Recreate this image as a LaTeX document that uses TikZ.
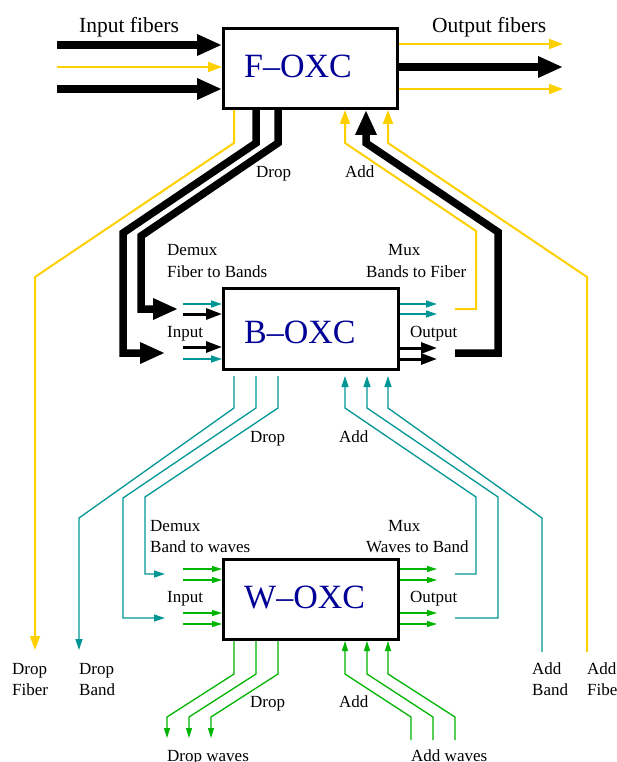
\documentclass[tikz,border=0pt]{standalone}
\usepackage{fontspec}
\setmainfont{Liberation Serif}
\usetikzlibrary{arrows.meta}
\definecolor{fyel}{RGB}{255,208,0}
\definecolor{bteal}{RGB}{0,150,150}
\definecolor{wgreen}{RGB}{0,180,0}
\definecolor{oxcblue}{RGB}{0,0,150}
\begin{document}
\begin{tikzpicture}[x=1pt,y=-1pt,
  box/.style={draw,line width=3pt,inner sep=0pt,fill=white},
  oxc/.style={anchor=base west,inner sep=0pt,text=oxcblue,font=\fontsize{34}{40}\selectfont},
  lab/.style={anchor=base west,inner sep=0pt,font=\fontsize{17}{20}\selectfont},
  biglab/.style={anchor=base west,inner sep=0pt,font=\fontsize{21.5}{25}\selectfont},
  fat/.style={line width=7.5pt,line join=miter,-{Triangle[length=25pt,width=20pt]}},
  med/.style={line width=3pt,-{Triangle[length=16pt,width=11pt]}},
  yel/.style={fyel,line width=2pt,line join=miter},
  yelarr/.style={yel,-{Triangle[length=14pt,width=10pt]}},
  tealarr/.style={bteal,line width=1.3pt,-{Triangle[length=11pt,width=7pt]}},
  grnarr/.style={wgreen,line width=1.3pt,-{Triangle[length=10pt,width=6pt]}},
]
\useasboundingbox (0,0) rectangle (616,762);

% boxes
\node[box,minimum width=174pt,minimum height=80pt] (foxc) at (310.5,68.5) {};
\node[box,minimum width=175pt,minimum height=81pt] (boxc) at (311,329) {};
\node[box,minimum width=175pt,minimum height=80pt] (woxc) at (311,599.5) {};
\node[oxc] (foxclab) at (244,78) {F--OXC};
\node[oxc] (boxclab) at (244,343) {B--OXC};
\node[oxc] (woxclab) at (244,608) {W--OXC};

% ---------- F-OXC fibers
\coordinate (in1) at (57,45);
\coordinate (in2) at (57,67);
\coordinate (in3) at (57,89);
\draw[fat] (in1) -- (in1 -| foxc.west);
\draw[yelarr] (in2) -- (in2 -| foxc.west);
\draw[fat] (in3) -- (in3 -| foxc.west);
\coordinate (out1) at (563,44);
\coordinate (out2) at (563,67);
\coordinate (out3) at (563,89);
\draw[yelarr] (out1 -| foxc.east) -- (out1);
\draw[fat] (out2 -| foxc.east) -- (out2);
\draw[yelarr] (out3 -| foxc.east) -- (out3);

% F-OXC drop
\coordinate (fdy) at (234,143);
\coordinate (dropfiber) at (35,650);
\draw[yelarr] (foxc.south -| fdy) -- (fdy) -- (35,277) -- (dropfiber);
\coordinate (fdb1) at (256,143);
\coordinate (bin2) at (165,353);
\draw[fat] (foxc.south -| fdb1) -- (fdb1) -- (123,233) -- (123,353) -- (bin2);
\coordinate (fdb2) at (278,143);
\coordinate (bin1) at (178,309);
\draw[fat] (foxc.south -| fdb2) -- (fdb2) -- (141,236) -- (141,309) -- (bin1);

% F-OXC add
\coordinate (fay1) at (345,143);
\coordinate (bout1) at (455,309);
\draw[yelarr] (bout1) -- (476,309) -- (476,231) -- (fay1) -- (foxc.south -| fay1);
\coordinate (fab) at (366,143);
\coordinate (bout2) at (455,353);
\draw[fat] (bout2) -- (498,353) -- (498,232) -- (fab) -- (foxc.south -| fab);
\coordinate (fay2) at (388,143);
\coordinate (addfiber) at (587,652);
\draw[yelarr] (addfiber) -- (587,277) -- (fay2) -- (foxc.south -| fay2);

% ---------- B-OXC ports
\draw[tealarr] (183,304) -- (boxc.west |- 0,304);
\draw[med] (183,314) -- (boxc.west |- 0,314);
\draw[med] (183,347) -- (boxc.west |- 0,347);
\draw[tealarr] (183,359) -- (boxc.west |- 0,359);
\draw[tealarr] (boxc.east |- 0,304) -- (437,304);
\draw[tealarr] (boxc.east |- 0,314) -- (437,314);
\draw[med] (boxc.east |- 0,348) -- (437,348);
\draw[med] (boxc.east |- 0,359) -- (437,359);

% B-OXC drop
\coordinate (bd1) at (234,408);
\coordinate (dropband) at (79,650);
\draw[tealarr,shorten <=5pt] (boxc.south -| bd1) -- (bd1) -- (79,518) -- (dropband);
\coordinate (bd2) at (256,408);
\coordinate (wi2) at (165,618);
\draw[tealarr,shorten <=5pt] (boxc.south -| bd2) -- (bd2) -- (123,498) -- (123,618) -- (wi2);
\coordinate (bd3) at (278,408);
\coordinate (wi1) at (165,574);
\draw[tealarr,shorten <=5pt] (boxc.south -| bd3) -- (bd3) -- (145,497) -- (145,574) -- (wi1);

% B-OXC add
\coordinate (ba1) at (345,408);
\coordinate (wo1) at (455,574);
\draw[tealarr,shorten >=5pt] (wo1) -- (476,574) -- (476,497) -- (ba1) -- (boxc.south -| ba1);
\coordinate (ba2) at (367,408);
\coordinate (wo2) at (455,618);
\draw[tealarr,shorten >=5pt] (wo2) -- (498,618) -- (498,497) -- (ba2) -- (boxc.south -| ba2);
\coordinate (ba3) at (388,408);
\coordinate (addband) at (542,652);
\draw[tealarr,shorten >=5pt] (addband) -- (542,518) -- (ba3) -- (boxc.south -| ba3);

% ---------- W-OXC ports
\foreach \y in {569,580,613,624} {
  \draw[grnarr] (183,\y) -- (woxc.west |- 0,\y);
  \draw[grnarr] (woxc.east |- 0,\y) -- (437,\y);
}
\foreach \x/\xe in {234/167,256/189,278/211}
  \draw[grnarr] (woxc.south -| \x,0) -- (\x,674) -- (\xe,717) -- (\xe,738);
\foreach \x/\xs in {345/411,367/433,388/455}
  \draw[grnarr] (\xs,740) -- (\xs,717) -- (\x,674) -- (woxc.south -| \x,0);

% ---------- labels
\node[biglab] (tin) at (79,33) {Input fibers};
\node[biglab] (tout) at (432,33) {Output fibers};
\node[lab] (fdrop) at (256,177) {Drop};
\node[lab] (fadd) at (345,177) {Add};
\node[lab] (bdemux) at (167,255) {Demux};
\node[lab] (bdemux2) at (167,277) {Fiber to Bands};
\node[lab] (bmux) at (388,255) {Mux};
\node[lab] (bmux2) at (366,277) {Bands to Fiber};
\node[lab] (binput) at (167,337) {Input};
\node[lab] (boutput) at (410,337) {Output};
\node[lab] (bdrop) at (250,442) {Drop};
\node[lab] (badd) at (339,442) {Add};
\node[lab] (wdemux) at (150,531) {Demux};
\node[lab] (wdemux2) at (150,552) {Band to waves};
\node[lab] (wmux) at (388,531) {Mux};
\node[lab] (wmux2) at (366,552) {Waves to Band};
\node[lab] (winput) at (167,602) {Input};
\node[lab] (woutput) at (410,602) {Output};
\node[lab] (wdrop) at (250,707) {Drop};
\node[lab] (wadd) at (339,707) {Add};
\node[lab] (dfa) at (12,674) {Drop};
\node[lab] (dfb) at (12,695) {Fiber};
\node[lab] (dba) at (79,674) {Drop};
\node[lab] (dbb) at (79,695) {Band};
\node[lab] (aba) at (532,674) {Add};
\node[lab] (abb) at (532,695) {Band};
\node[lab] (afa) at (587,674) {Add};
\node[lab] (afb) at (587,695) {Fiber};
\node[lab] (dw) at (167,761) {Drop waves};
\node[lab] (aw) at (411,761) {Add waves};
\end{tikzpicture}
\end{document}
